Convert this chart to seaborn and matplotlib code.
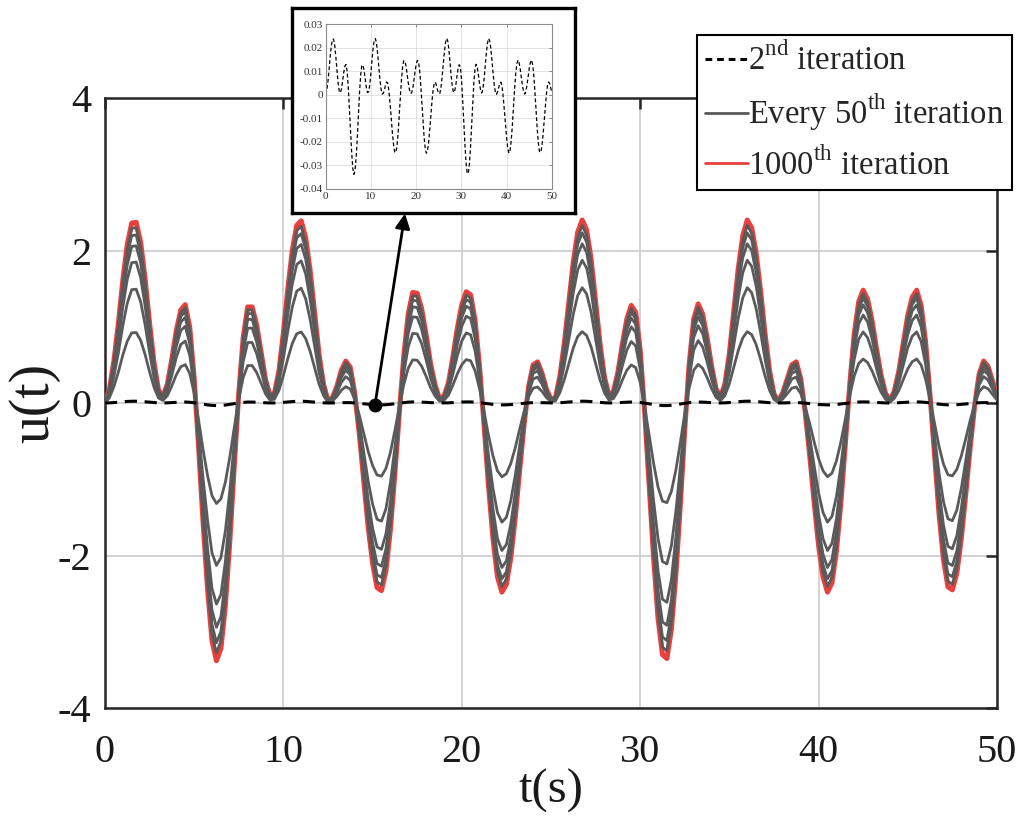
import numpy as np
import pandas as pd
import seaborn as sns
import matplotlib.pyplot as plt
from matplotlib.lines import Line2D

# time grid (s) and the converged input u(t)
t = np.arange(0, 50.001, 0.25)
u_final = [
    0.00, 0.18, 0.55, 1.04, 1.61, 2.08, 2.36, 2.37, 2.11, 1.63,
    1.05, 0.53, 0.17, 0.085, 0.25, 0.58, 0.95, 1.22, 1.29, 1.00,
    0.33, -0.58, -1.57, -2.44, -3.12, -3.38, -3.22, -2.66, -1.81, -0.82,
    0.13, 0.86, 1.26, 1.26, 1.03, 0.67, 0.31, 0.10, 0.13, 0.42,
    0.92, 1.50, 2.00, 2.33, 2.39, 2.17, 1.74, 1.19, 0.64, 0.25,
    0.03, 0.07, 0.22, 0.43, 0.55, 0.47, 0.13, -0.39, -1.00, -1.62,
    -2.10, -2.42, -2.46, -2.20, -1.66, -0.93, -0.13, 0.62, 1.17, 1.45,
    1.44, 1.24, 0.90, 0.52, 0.24, 0.06, 0.09, 0.26, 0.60, 0.98,
    1.29, 1.46, 1.42, 1.08, 0.47, -0.29, -1.09, -1.78, -2.28, -2.48,
    -2.38, -2.03, -1.50, -0.87, -0.27, 0.22, 0.50, 0.54, 0.39, 0.18,
    0.05,
    0.07, 0.35, 0.79, 1.32, 1.85, 2.24, 2.40, 2.27, 1.89, 1.34,
    0.78, 0.34, 0.10, 0.15, 0.40, 0.77, 1.10, 1.28, 1.19, 0.70,
    -0.11, -1.06, -2.02, -2.82, -3.30, -3.35, -2.97, -2.26, -1.34, -0.35,
    0.52, 1.10, 1.30, 1.17, 0.86, 0.49, 0.19, 0.08, 0.25, 0.65,
    1.21, 1.77, 2.19, 2.40, 2.30, 1.97, 1.47, 0.91, 0.43, 0.12,
    0.02, 0.14, 0.32, 0.50, 0.54, 0.32, -0.12, -0.68, -1.30, -1.87,
    -2.28, -2.48, -2.36, -1.95, -1.31, -0.54, 0.25, 0.91, 1.33, 1.48,
    1.36, 1.08, 0.71, 0.37, 0.13, 0.03, 0.16, 0.42, 0.79, 1.15,
    1.39, 1.48, 1.28, 0.80, 0.10, -0.68, -1.45, -2.05, -2.41, -2.45,
    -2.23, -1.78, -1.20, -0.58, -0.03, 0.38, 0.55, 0.48, 0.29, 0.10,
]
# intermediate iterations: peak height relative to the 1000th iteration
gray_ratio = [0.39, 0.63, 0.78, 0.87, 0.93, 0.97]
# 2nd iteration is ~1/100 of the final one (peak 0.024 in the zoom box)
second_ratio = 0.01
dot_t, dot_u = 15.13, -0.03

x_ticks = [0, 10, 20, 30, 40, 50]
y_ticks = [-4, -2, 0, 2, 4]
inset_yticks = [-0.04, -0.03, -0.02, -0.01, 0, 0.01, 0.02, 0.03]
inset_ylabels = ['-0.04', '-0.03', '-0.02', '-0.01', '0', '0.01', '0.02', '0.03']
legend_labels = ['2$^{\\rm nd}$ iteration', 'Every 50$^{\\rm th}$ iteration',
                 '1000$^{\\rm th}$ iteration']

red = '#e8403c'
gray = '#5a5a5a'

u_final = np.array(u_final)
u_second = u_final * second_ratio
df = pd.DataFrame({'t': t, 'u': u_final, 'u2': u_second})

sns.set_style('white')
plt.rcParams['font.family'] = ['Liberation Serif', 'DejaVu Serif']
plt.rcParams['mathtext.fontset'] = 'custom'
plt.rcParams['mathtext.rm'] = 'Liberation Serif'
plt.rcParams['axes.unicode_minus'] = False

fig = plt.figure(figsize=(10.24, 8.23), dpi=100)
ax = fig.add_axes([0.1025, 0.1397, 0.8711, 0.7412])

sns.lineplot(data=df, x='t', y='u', ax=ax, color=red, linewidth=3.6, zorder=3)
for r in gray_ratio:
    sns.lineplot(x=df['t'], y=df['u'] * r, ax=ax, color=gray, linewidth=2.0, zorder=4)
sns.lineplot(data=df, x='t', y='u2', ax=ax, color='black', linewidth=2.2,
             linestyle=(0, (4, 2.5)), zorder=5)
ax.plot(dot_t, dot_u, 'o', color='black', markersize=9, zorder=6)

ax.set_xlim(0, 50)
ax.set_ylim(-4, 4)
ax.set_xticks(x_ticks)
ax.set_yticks(y_ticks)
ax.grid(True, color='#cfcfcf', linewidth=1.3)
ax.set_axisbelow(True)
ax.tick_params(direction='in', length=8, width=1.8, top=True, right=True,
               labelsize=29, colors='#262626', labelcolor='#1a1a1a')
ax.tick_params(axis='x', pad=19)
ax.tick_params(axis='y', pad=10)
for s in ax.spines.values():
    s.set_linewidth(1.8)
    s.set_color('#262626')
ax.set_xlabel('t(s)', fontsize=35, labelpad=-2, color='#1a1a1a')
ax.set_ylabel('u(t)', fontsize=40, labelpad=-2, color='#1a1a1a')

# arrow from the dot on the 2nd-iteration curve up to the zoom box
ax.annotate('', xy=(0.3955, 0.7405), xycoords='figure fraction',
            xytext=(dot_t, dot_u), textcoords='data',
            arrowprops=dict(arrowstyle='-|>', color='black', lw=2,
                            mutation_scale=22, shrinkA=0, shrinkB=0),
            zorder=6)

# zoom box with its thick black frame
box = fig.add_axes([0.2852, 0.7412, 0.2764, 0.2491], zorder=10)
box.set_xticks([])
box.set_yticks([])
box.set_facecolor('white')
for s in box.spines.values():
    s.set_linewidth(2.4)
    s.set_color('black')

ins = fig.add_axes([0.318, 0.7704, 0.221, 0.2001], zorder=11)
sns.lineplot(data=df, x='t', y='u2', ax=ins, color='black', linewidth=0.9,
             linestyle=(0, (3, 2)))
ins.set_xlim(0, 50)
ins.set_ylim(-0.04, 0.03)
ins.set_xticks(x_ticks)
ins.set_yticks(inset_yticks)
ins.set_yticklabels(inset_ylabels)
ins.set_xlabel('')
ins.set_ylabel('')
ins.grid(True, color='#dedede', linewidth=0.6)
ins.tick_params(direction='in', length=2, width=0.6, top=True, right=True,
                labelsize=8, pad=2, colors='#777777', labelcolor='#333333')
for s in ins.spines.values():
    s.set_linewidth(0.8)
    s.set_color('#8a8a8a')

handles = [Line2D([], [], color='black', lw=2.2, linestyle=(0, (2.2, 1.6))),
           Line2D([], [], color=gray, lw=2.0),
           Line2D([], [], color=red, lw=2.0)]
leg = fig.legend(handles, legend_labels, loc='upper left',
                 bbox_to_anchor=(0.6807, 0.9575), bbox_transform=fig.transFigure,
                 fontsize=23.5, handlelength=1.3, handletextpad=0.0, borderpad=0.25,
                 labelspacing=0.45, borderaxespad=0, fancybox=False,
                 framealpha=1, edgecolor='black')
leg.get_frame().set_linewidth(1.5)
leg.set_zorder(12)

fig.savefig('out.png', dpi=100)
